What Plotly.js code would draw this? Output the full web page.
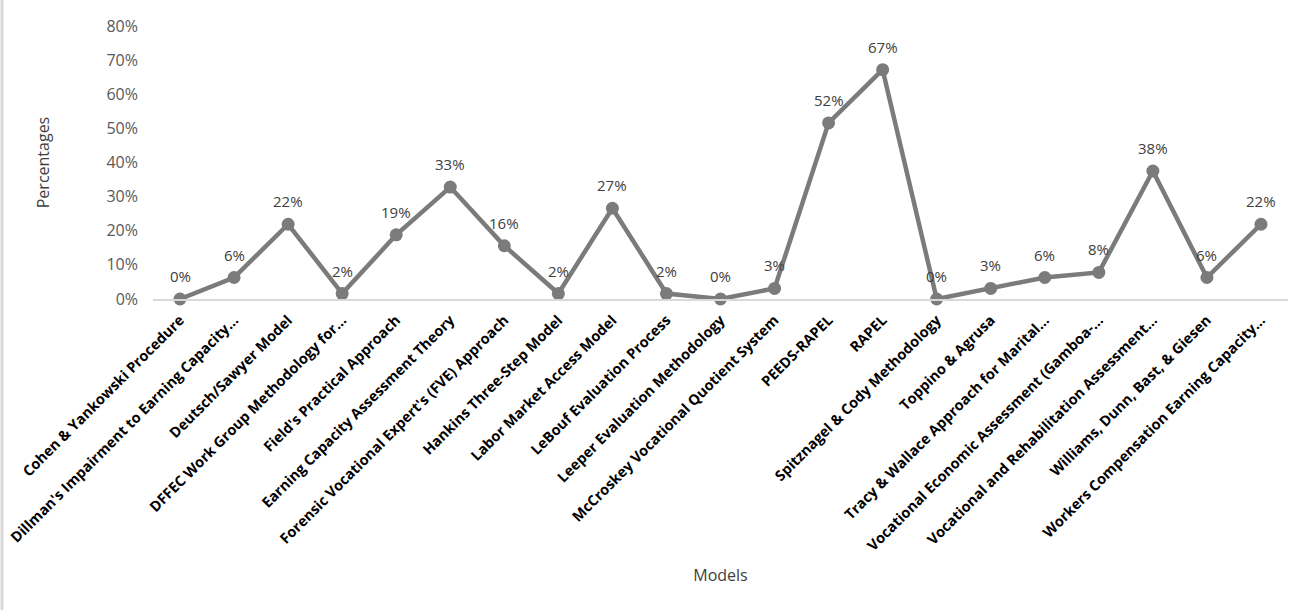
<!DOCTYPE html>
<html>
<head>
<meta charset="utf-8">
<script src="https://cdn.plot.ly/plotly-3.0.1.min.js"></script>
<style>
html,body{margin:0;padding:0;background:#fff;}
#chart{width:1299px;height:610px;}
</style>
</head>
<body>
<div id="chart"></div>
<script>
const models = [
  "Cohen & Yankowski Procedure",
  "Dillman's Impairment to Earning Capacity…",
  "Deutsch/Sawyer Model",
  "DFFEC Work Group Methodology for…",
  "Field's Practical Approach",
  "Earning Capacity Assessment Theory",
  "Forensic Vocational Expert's (FVE) Approach",
  "Hankins Three-Step Model",
  "Labor Market Access Model",
  "LeBouf Evaluation Process",
  "Leeper Evaluation Methodology",
  "McCroskey Vocational Quotient System",
  "PEEDS-RAPEL",
  "RAPEL",
  "Spitznagel & Cody Methodology",
  "Toppino & Agrusa",
  "Tracy & Wallace Approach for Marital…",
  "Vocational Economic Assessment (Gamboa-…",
  "Vocational and Rehabilitation Assessment…",
  "Williams, Dunn, Bast, & Giesen",
  "Workers Compensation Earning Capacity…"
];
const percentages = [0.0, 0.063, 0.219, 0.016, 0.188, 0.328, 0.156, 0.016, 0.266, 0.016, 0.0, 0.031, 0.516, 0.672, 0.0, 0.031, 0.063, 0.078, 0.375, 0.063, 0.219];
const yTicks = [0, 0.1, 0.2, 0.3, 0.4, 0.5, 0.6, 0.7, 0.8];

const FONT = '"Open Sans", "DejaVu Sans", sans-serif';

const trace = {
  type: 'scatter',
  mode: 'lines+markers',
  x: models,
  y: percentages,
  line: {color: '#7b7b7b', width: 4.5},
  marker: {color: '#7b7b7b', size: 13},
  cliponaxis: false,
  hoverinfo: 'x+y'
};

const labels = models.map((m, i) => ({
  x: m,
  y: percentages[i],
  xref: 'x',
  yref: 'y',
  text: Math.round(percentages[i] * 100) + '%',
  showarrow: false,
  yanchor: 'bottom',
  xanchor: 'center',
  yshift: 11,
  font: {family: FONT, size: 15, color: '#404040'}
}));

const layout = {
  width: 1299,
  height: 610,
  margin: {l: 153, r: 11, t: 26, b: 311},
  paper_bgcolor: '#ffffff',
  plot_bgcolor: '#ffffff',
  showlegend: false,
  font: {family: FONT, color: '#595959'},
  xaxis: {
    type: 'category',
    range: [-0.5, 20.5],
    tickangle: -45,
    tickfont: {family: FONT, size: 14.5, color: '#000000', weight: 'bold'},
    ticklabelstandoff: 5,
    showgrid: false,
    zeroline: false,
    showline: true,
    linecolor: '#d9d9d9',
    linewidth: 2,
    ticks: '',
    title: {text: 'Models', font: {family: FONT, size: 16, color: '#404040'}, standoff: 16}
  },
  yaxis: {
    range: [0, 0.8],
    tickvals: yTicks,
    tickformat: '.0%',
    tickfont: {family: FONT, size: 16, color: '#595959'},
    ticklabelstandoff: 14,
    showgrid: false,
    zeroline: false,
    showline: false,
    ticks: '',
    title: {text: 'Percentages', font: {family: FONT, size: 16, color: '#404040'}, standoff: 52}
  },
  annotations: labels,
  shapes: [{
    type: 'line', xref: 'paper', yref: 'paper',
    x0: -151/1135, x1: -151/1135, y0: -311/273, y1: 26/273 + 1,
    line: {color: '#d9d9d9', width: 3}
  }]
};

Plotly.newPlot('chart', [trace], layout, {displayModeBar: false, staticPlot: true});
</script>
</body>
</html>
